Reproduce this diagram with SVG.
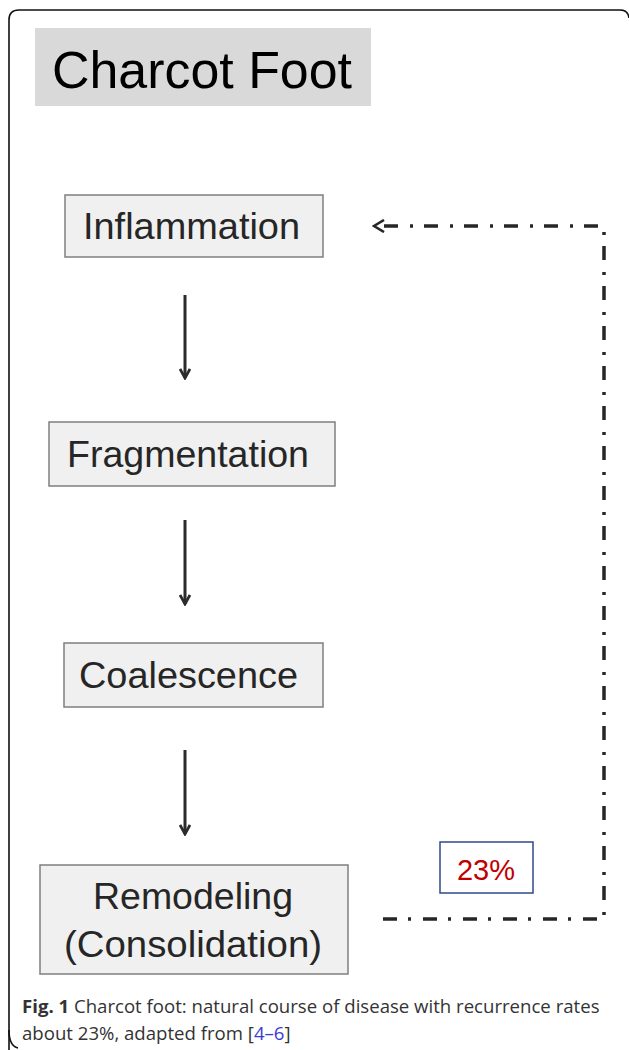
<svg xmlns="http://www.w3.org/2000/svg" width="629" height="1050" viewBox="0 0 629 1050">
<defs>
<style>
.box{fill:#f0f0f0;stroke:#7f7f7f;stroke-width:1.5}
.lbl{font-family:"Liberation Sans",Arial,sans-serif;font-size:36px;fill:#262626}
.arr{stroke:#2b2b2b;stroke-width:3;fill:none}
.dd{stroke:#262626;stroke-width:3.5;fill:none;stroke-dasharray:14 11 3 12}
.cap{font-family:"Open Sans","Noto Sans",sans-serif;font-size:18.6px;fill:#333}
</style>
<marker id="ah" viewBox="0 0 12 12" refX="10" refY="6" markerWidth="12" markerHeight="12" markerUnits="userSpaceOnUse" orient="auto">
<path d="M1,1 L10,6 L1,11" fill="none" stroke="#2b2b2b" stroke-width="2.8"/>
</marker>
<marker id="oh" viewBox="0 0 14 14" refX="12" refY="7" markerWidth="14" markerHeight="14" markerUnits="userSpaceOnUse" orient="auto">
<path d="M2,1 L12,7 L2,13" fill="none" stroke="#262626" stroke-width="2.6"/>
</marker>
</defs>
<rect width="629" height="1050" fill="#fff"/>
<path d="M9,1050 L9,20 Q9,10 19,10 L620,10 Q628,10 629,18" fill="none" stroke="#111" stroke-width="1.6"/>
<path d="M9,1030 Q9,1046 18,1048" fill="none" stroke="#111" stroke-width="1.6"/>
<g id="title">
<rect x="35" y="28" width="336" height="78" fill="#d9d9d9"/>
<text x="52" y="88" font-family="Liberation Sans,Arial,sans-serif" font-size="52" fill="#000" textLength="300" lengthAdjust="spacingAndGlyphs">Charcot Foot</text>
</g>
<g id="inflammation">
<rect class="box" x="65" y="195" width="258" height="62"/>
<text class="lbl" x="83" y="239" textLength="217" lengthAdjust="spacingAndGlyphs">Inflammation</text>
</g>
<g id="fragmentation">
<rect class="box" x="49" y="422" width="286" height="64"/>
<text class="lbl" x="67" y="467" textLength="242" lengthAdjust="spacingAndGlyphs">Fragmentation</text>
</g>
<g id="coalescence">
<rect class="box" x="64" y="643" width="259" height="64"/>
<text class="lbl" x="79" y="688" textLength="219" lengthAdjust="spacingAndGlyphs">Coalescence</text>
</g>
<g id="remodeling">
<rect class="box" x="40" y="865" width="308" height="109"/>
<text class="lbl" x="93" y="909" textLength="200" lengthAdjust="spacingAndGlyphs">Remodeling</text>
<text class="lbl" x="64" y="957" textLength="258" lengthAdjust="spacingAndGlyphs">(Consolidation)</text>
</g>
<g id="rate">
<rect x="440" y="842" width="93" height="51" fill="#fff" stroke="#2f4a8a" stroke-width="1.5"/>
<text x="486" y="880" font-family="Liberation Sans,Arial,sans-serif" font-size="29" fill="#c00000" text-anchor="middle">23%</text>
</g>
<g id="connectors">
<line class="arr" x1="185" y1="295" x2="185" y2="378" marker-end="url(#ah)"/>
<line class="arr" x1="185" y1="520" x2="185" y2="604" marker-end="url(#ah)"/>
<line class="arr" x1="185" y1="750" x2="185" y2="834" marker-end="url(#ah)"/>
<path class="dd" d="M383,919 L604,919 L604,226 L374,226" marker-end="url(#oh)"/>
</g>
<g id="caption">
<text class="cap" x="22" y="1013"><tspan font-weight="bold">Fig. 1</tspan> Charcot foot: natural course of disease with recurrence rates</text>
<text class="cap" x="22" y="1040">about 23%, adapted from [<tspan fill="#3b3bd6">4–6</tspan>]</text>
</g>
</svg>
